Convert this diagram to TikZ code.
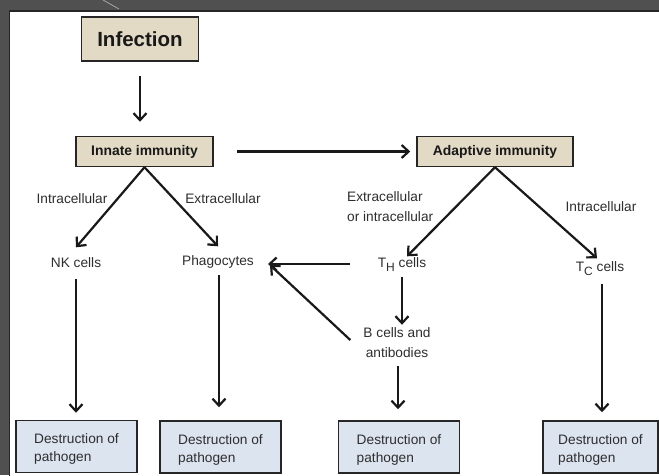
\documentclass[tikz,border=0pt]{standalone}
\usepackage{fontspec}
\setmainfont{Liberation Sans}
\usetikzlibrary{arrows.meta}
\definecolor{framegray}{HTML}{505050}
\definecolor{tanfill}{HTML}{E2DAC4}
\definecolor{palebluefill}{HTML}{DCE4F0}
\definecolor{txt}{HTML}{2E2E2E}
\newcommand{\mysubscr}[1]{\raisebox{-4pt}{\fontsize{12}{12}\selectfont #1}}
\begin{document}
\begin{tikzpicture}[x=1pt,y=-1pt,
  lbl/.style={font=\fontsize{13.7}{20}\selectfont, text=txt, inner sep=0pt, text height=10pt, text depth=3pt},
  lbltwo/.style={font=\fontsize{13.7}{20}\selectfont, text=txt, inner sep=0pt},
  topbox/.style={draw=black!85, line width=1.5pt, fill=tanfill, text=black!90, font=\bfseries\fontsize{13.9}{16}\selectfont, inner sep=0pt},
  dest/.style={draw=black!85, line width=1.5pt, fill=palebluefill, minimum width=121pt, minimum height=52pt, align=left, font=\fontsize{13.7}{18}\selectfont, text=txt, inner sep=0pt},
  arr/.style={-{Straight Barb[length=7pt,width=13pt]}, line width=2.2pt, black!90}]
\useasboundingbox (0,0) rectangle (659,475);
\fill[framegray] (0,0) rectangle (659,475);
\draw[gray!70, line width=0.8pt] (103,0) -- (119,9);
\filldraw[fill=white, draw=black!85, line width=1.2pt] (9.5,11) rectangle (665,480);

% boxes
\node[topbox, font=\bfseries\fontsize{20.5}{24}\selectfont, minimum width=117pt, minimum height=44pt] (inf) at (140,39) {Infection};
\node[topbox, minimum width=137pt, minimum height=30pt] (innate) at (144.5,151.5) {Innate immunity};
\node[topbox, minimum width=156pt, minimum height=30pt] (adaptive) at (495,151.5) {Adaptive immunity};

% cell labels
\node[lbl] (nk) at (76,264) {NK cells};
\node[lbl] (phago) at (218,262) {Phagocytes};
\node[lbl] (th) at (402,264) {T\mysubscr{H} cells};
\node[lbltwo, align=center] (bcells) at (397,343) {B cells and\\antibodies};
\node[lbl] (tc) at (600,268) {T\mysubscr{C} cells};

% edge labels
\node[lbl] (l1) at (72,200) {Intracellular};
\node[lbl] (l2) at (223,200) {Extracellular};
\node[lbltwo, align=left, anchor=west] (l3) at (347,207) {Extracellular\\or intracellular};
\node[lbl] (l4) at (601,208) {Intracellular};

% destruction boxes
\node[dest] (d1) at (76.5,446.5) {\rule{0pt}{15pt}Destruction of\\pathogen};
\node[dest] (d2) at (220.5,447) {\rule{0pt}{15pt}Destruction of\\pathogen};
\node[dest] (d3) at (399,447) {\rule{0pt}{15pt}Destruction of\\pathogen};
\node[dest, minimum width=115pt] (d4) at (600.5,447) {\rule{0pt}{15pt}Destruction of\\pathogen};

% connectors
\draw[arr, shorten <=14pt, shorten >=14pt] (inf.south) -- (inf.south |- innate.north);
\draw[arr, shorten <=23pt, shorten >=6pt] (innate.east) -- (adaptive.west);
\draw[arr] (innate.south) -- ([yshift=10pt]nk.north);
\draw[arr] (innate.south) -- ([yshift=9pt]phago.north);
\draw[arr] (adaptive.south) -- ([xshift=5pt,yshift=1pt]th.north);
\draw[arr] (adaptive.south) -- ([xshift=-3pt,yshift=3pt]tc.north);
\draw[arr, shorten <=8.5pt, shorten >=7pt] (nk.south) -- (nk.south |- d1.north);
\draw[arr, shorten <=6.5pt, shorten >=13pt] ([xshift=1pt]phago.south) -- ([xshift=1pt]phago.south |- d2.north);
\draw[arr, shorten <=6pt, shorten >=3pt] (th.south) -- (th.south |- bcells.north);
\draw[arr, shorten <=7.5pt, shorten >=11pt] ([xshift=1pt]bcells.south) -- ([xshift=1pt]bcells.south |- d3.north);
\draw[arr, shorten <=9pt, shorten >=8pt] ([xshift=2pt]tc.south) -- ([xshift=2pt]tc.south |- d4.north);
\draw[arr, shorten <=28pt, shorten >=14pt] (th.west) -- (th.west -| phago.east);
\draw[arr] ([xshift=-13pt,yshift=3pt]bcells.west) -- ([xshift=16pt,yshift=-3pt]phago.east);
\end{tikzpicture}
\end{document}
